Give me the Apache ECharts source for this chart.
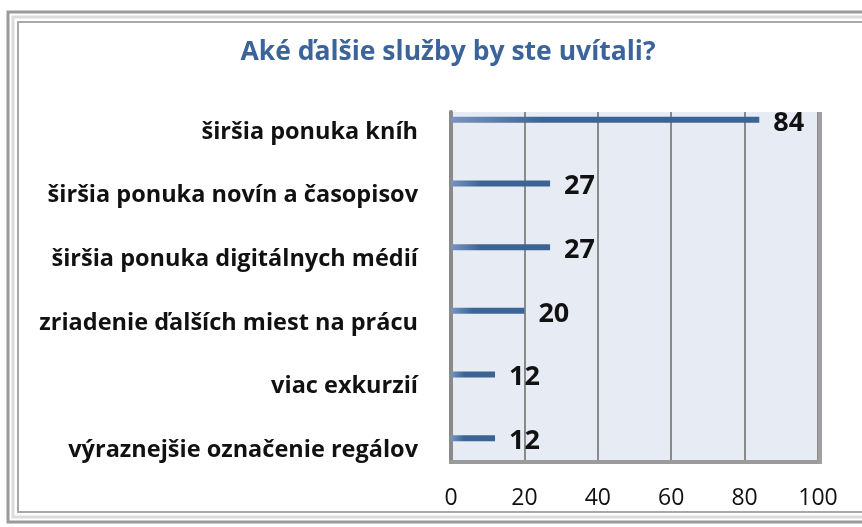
<!DOCTYPE html>
<html>
<head>
<meta charset="utf-8">
<script src="https://cdn.jsdelivr.net/npm/echarts@6/dist/echarts.min.js"></script>
<style>
  html, body { margin: 0; padding: 0; background: #fff; }
  #chart { width: 862px; height: 527px; }
</style>
</head>
<body>
<div id="chart"></div>
<script>
// data
var categories = [
    'širšia ponuka kníh',
    'širšia ponuka novín a časopisov',
    'širšia ponuka digitálnych médií',
    'zriadenie ďalších miest na prácu',
    'viac exkurzií',
    'výraznejšie označenie regálov'
];
var values = [84, 27, 27, 20, 12, 12];
var tickValues = [0, 20, 40, 60, 80, 100];

var blue = '#3b6494';
var font = '"Open Sans", sans-serif';

var chart = echarts.init(document.getElementById('chart'));
chart.setOption({
    backgroundColor: '#fff',
    animation: false,
    title: {
        text: 'Aké ďalšie služby by ste uvítali?',
        left: 443,
        textAlign: 'center',
        top: 34,
        textStyle: { color: '#3a649a', fontSize: 26.5, fontWeight: 'bold', fontFamily: font }
    },
    graphic: [
        // outer frame
        { type: 'rect', shape: { x: 8, y: 12, width: 870, height: 510 }, style: { fill: 'none', stroke: '#9a9a9a', lineWidth: 3 }, z: 100 },
        { type: 'rect', shape: { x: 13, y: 17, width: 860, height: 500 }, style: { fill: 'none', stroke: '#dcdcdc', lineWidth: 3 }, z: 100 },
        { type: 'rect', shape: { x: 18, y: 22, width: 850, height: 490 }, style: { fill: 'none', stroke: '#a8a8a8', lineWidth: 2 }, z: 100 },
        // floor shadow of the plot
        { type: 'rect', shape: { x: 449, y: 460, width: 371, height: 4 }, style: { fill: '#9a9a9a' }, z: 5 },
        { type: 'rect', shape: { x: 818, y: 112, width: 4, height: 352 }, style: { fill: '#a0a0a0' }, z: 5 }
    ],
    grid: [
        { left: 451, right: 44, top: 112, bottom: 67, show: true, backgroundColor: '#e7ebf4', borderWidth: 0 },
        { left: 451, right: 44, top: 88, bottom: 57 }
    ],
    xAxis: [
        {
            gridIndex: 0, type: 'value', min: 0, max: 100, interval: 20,
            axisLine: { show: false }, axisTick: { show: false },
            splitLine: { show: true, lineStyle: { color: '#8a8a8a', width: 2 } },
            axisLabel: {
                margin: 27, color: '#111', fontSize: 23, fontFamily: font,
                formatter: function (v) { return tickValues.indexOf(v) >= 0 ? String(v) : ''; }
            }
        },
        {
            gridIndex: 1, type: 'value', min: 0, max: 100,
            axisLine: { show: false }, axisTick: { show: false },
            splitLine: { show: false }, axisLabel: { show: false }
        }
    ],
    yAxis: [
        {
            gridIndex: 0, type: 'category', data: categories,
            axisLine: { show: true, lineStyle: { color: '#8a8a8a', width: 4 } },
            axisTick: { show: false }, axisLabel: { show: false }, splitLine: { show: false }
        },
        {
            gridIndex: 1, type: 'category', data: categories, inverse: true,
            axisLine: { show: false }, axisTick: { show: false },
            axisLabel: {
                margin: 33, color: '#111', fontSize: 23.5, fontWeight: 'bold', fontFamily: font,
                verticalAlign: 'top', lineHeight: 24
            }
        }
    ],
    series: [{
        type: 'bar',
        xAxisIndex: 1,
        yAxisIndex: 1,
        data: values,
        barWidth: 6,
        itemStyle: {
            color: new echarts.graphic.LinearGradient(0, 0, 1, 0, [
                { offset: 0, color: '#7895bd' },
                { offset: 0.3, color: blue },
                { offset: 1, color: blue }
            ])
        },
        label: {
            show: true, position: 'right', distance: 14, offset: [0, 3],
            color: '#111', fontSize: 27, fontWeight: 'bold', fontFamily: font
        },
        z: 10
    }]
});
</script>
</body>
</html>
